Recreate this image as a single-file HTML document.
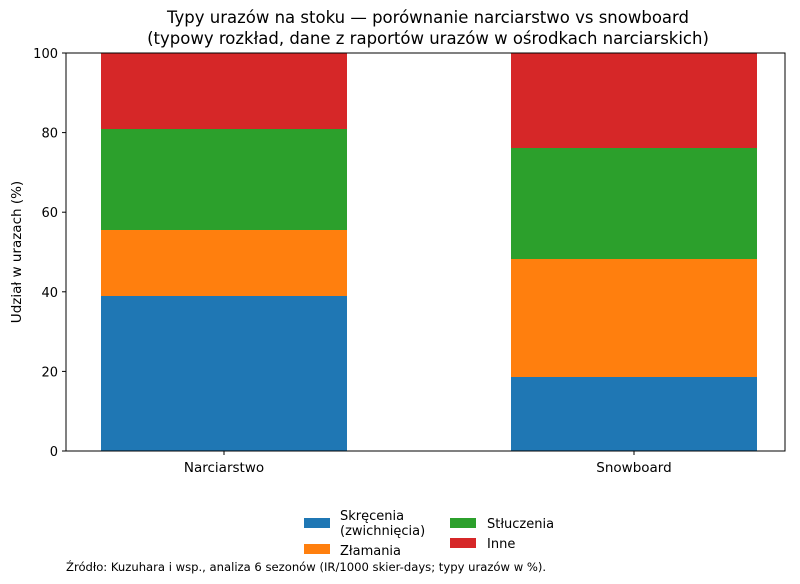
<!DOCTYPE html><html><head><meta charset="utf-8"><style>body{margin:0;background:#fff}svg{display:block}text{font-family:"DejaVu Sans","Liberation Sans",sans-serif;fill:#000}</style></head><body>
<svg width="800" height="584" viewBox="0 0 800 584">
<text x="428" y="23" font-size="16.5" text-anchor="middle">Typy urazów na stoku — porównanie narciarstwo vs snowboard</text>
<text x="428" y="44" font-size="16.5" text-anchor="middle">(typowy rozkład, dane z raportów urazów w ośrodkach narciarskich)</text>
<rect x="101" y="296" width="246" height="155" fill="#1f77b4"/>
<rect x="101" y="230" width="246" height="66" fill="#ff7f0e"/>
<rect x="101" y="129" width="246" height="101" fill="#2ca02c"/>
<rect x="101" y="53" width="246" height="76" fill="#d62728"/>
<rect x="511" y="377" width="246" height="74" fill="#1f77b4"/>
<rect x="511" y="259" width="246" height="118" fill="#ff7f0e"/>
<rect x="511" y="148" width="246" height="111" fill="#2ca02c"/>
<rect x="511" y="53" width="246" height="95" fill="#d62728"/>
<rect x="66" y="53" width="719" height="398" fill="none" stroke="#000" stroke-width="1"/>
<g font-size="13" text-anchor="end">
<line x1="62" y1="451" x2="66" y2="451" stroke="#000"/><text x="58" y="456">0</text>
<line x1="62" y1="371.4" x2="66" y2="371.4" stroke="#000"/><text x="58" y="376.4">20</text>
<line x1="62" y1="291.8" x2="66" y2="291.8" stroke="#000"/><text x="58" y="296.8">40</text>
<line x1="62" y1="212.2" x2="66" y2="212.2" stroke="#000"/><text x="58" y="217.2">60</text>
<line x1="62" y1="132.6" x2="66" y2="132.6" stroke="#000"/><text x="58" y="137.6">80</text>
<line x1="62" y1="53" x2="66" y2="53" stroke="#000"/><text x="58" y="58">100</text>
</g>
<line x1="224" y1="451" x2="224" y2="455" stroke="#000"/><line x1="634" y1="451" x2="634" y2="455" stroke="#000"/>
<text x="224" y="472" font-size="13.5" text-anchor="middle">Narciarstwo</text>
<text x="634" y="472" font-size="13.5" text-anchor="middle">Snowboard</text>
<text transform="translate(21,252) rotate(-90)" font-size="13.5" text-anchor="middle">Udział w urazach (%)</text>
<g font-size="13">
<rect x="304" y="518" width="26" height="10" fill="#1f77b4"/><text x="340" y="520">Skręcenia</text><text x="340" y="535">(zwichnięcia)</text>
<rect x="304" y="544" width="26" height="10" fill="#ff7f0e"/><text x="340" y="555">Złamania</text>
<rect x="450" y="518" width="26" height="10" fill="#2ca02c"/><text x="487" y="528">Stłuczenia</text>
<rect x="450" y="538" width="26" height="10" fill="#d62728"/><text x="487" y="548">Inne</text>
</g>
<text x="66" y="571" font-size="11.6">Źródło: Kuzuhara i wsp., analiza 6 sezonów (IR/1000 skier-days; typy urazów w %).</text>
</svg></body></html>
